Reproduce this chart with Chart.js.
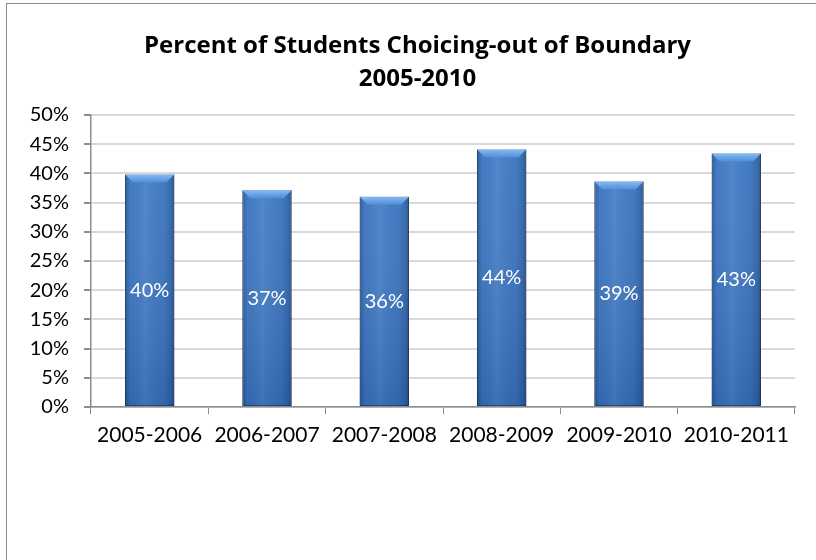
<!DOCTYPE html>
<html>
<head>
<meta charset="utf-8">
<script src="https://cdn.jsdelivr.net/npm/chart.js@4/dist/chart.umd.min.js"></script>
<style>
    html, body { margin: 0; padding: 0; background: #fff; overflow: hidden; }
    #frame { position: absolute; left: 6px; top: 3px; width: 830px; height: 580px; border: 1px solid #8c8c8c; }
    #wrap { position: absolute; left: 0; top: 0; width: 816px; height: 560px; }
</style>
</head>
<body>
<div id="frame"></div>
<div id="wrap"><canvas id="myChart" width="816" height="560"></canvas></div>
<script>
const titleLines = ["Percent of Students Choicing-out of Boundary", "2005-2010"];
const schoolYears = ["2005-2006", "2006-2007", "2007-2008", "2008-2009", "2009-2010", "2010-2011"];
const choiceOutShare = [0.398, 0.371, 0.360, 0.441, 0.386, 0.434];
const yTicks = [0, 0.05, 0.10, 0.15, 0.20, 0.25, 0.30, 0.35, 0.40, 0.45, 0.50];

const FONT = "Lato, 'Noto Sans', sans-serif";
const TITLE_FONT = "'Open Sans', 'Noto Sans', sans-serif";

// the original title is centred on the whole chart frame, which runs past the right edge
const shiftTitle = {
    id: "shiftTitle",
    afterLayout(chart) {
        if (chart.titleBlock) {
            chart.titleBlock.left += 20;
            chart.titleBlock.right += 20;
        }
    }
};

// cylinder-ish shading + bevelled top, like the office chart style
const barShading = {
    id: "barShading",
    afterDatasetsDraw(chart) {
        const ctx = chart.ctx;
        chart.getDatasetMeta(0).data.forEach((bar) => {
            const {x, y, base, width} = bar.getProps(["x", "y", "base", "width"], true);
            const left = x - width / 2, right = x + width / 2;
            ctx.save();
            let g = ctx.createLinearGradient(left, 0, right, 0);
            g.addColorStop(0, "rgba(10,30,70,0.40)");
            g.addColorStop(0.1, "rgba(10,30,70,0.02)");
            g.addColorStop(0.4, "rgba(255,255,255,0.08)");
            g.addColorStop(0.78, "rgba(10,30,70,0.03)");
            g.addColorStop(0.93, "rgba(10,30,70,0.22)");
            g.addColorStop(1, "rgba(10,30,70,0.5)");
            ctx.fillStyle = g;
            ctx.fillRect(left, y, width, base - y);

            // vertical fade, darker at the bottom
            g = ctx.createLinearGradient(0, y, 0, base);
            g.addColorStop(0, "rgba(255,255,255,0.05)");
            g.addColorStop(1, "rgba(10,30,70,0.15)");
            ctx.fillStyle = g;
            ctx.fillRect(left, y, width, base - y);

            // bevel on top
            const b = 8;
            ctx.beginPath();
            ctx.moveTo(left, y);
            ctx.lineTo(right, y);
            ctx.lineTo(right - b, y + b);
            ctx.lineTo(left + b, y + b);
            ctx.closePath();
            g = ctx.createLinearGradient(0, y, 0, y + b);
            g.addColorStop(0, "#86bbf2");
            g.addColorStop(1, "#4f8dd9");
            ctx.fillStyle = g;
            ctx.fill();
            ctx.restore();
        });
    }
};

const valueLabels = {
    id: "valueLabels",
    afterDatasetsDraw(chart) {
        const ctx = chart.ctx;
        const ds = chart.data.datasets[0];
        ctx.save();
        ctx.fillStyle = "#ffffff";
        ctx.font = "20px " + FONT;
        ctx.textAlign = "center";
        ctx.textBaseline = "middle";
        chart.getDatasetMeta(0).data.forEach((bar, i) => {
            const {x, y, base} = bar.getProps(["x", "y", "base"], true);
            ctx.fillText(Math.round(ds.data[i] * 100) + "%", x, (y + base) / 2);
        });
        ctx.restore();
    }
};

const ctx = document.getElementById("myChart").getContext("2d");
new Chart(ctx, {
    type: "bar",
    data: {
        labels: schoolYears,
        datasets: [{
            label: "Choicing-out",
            data: choiceOutShare,
            backgroundColor: "#3a76c2",
            borderColor: "#23497f",
            borderWidth: 1,
            borderSkipped: false,
            barPercentage: 0.42,
            categoryPercentage: 1,
        }]
    },
    options: {
        responsive: false,
        animation: false,
        devicePixelRatio: 1,
        layout: {padding: {left: 0, right: 21, top: 0, bottom: 103}},
        plugins: {
            legend: {display: false},
            tooltip: {enabled: false},
            title: {
                display: true,
                text: titleLines,
                color: "#000",
                font: {family: TITLE_FONT, size: 24, weight: "bold", lineHeight: 1.375},
                padding: {top: 30, bottom: 19},
            },
        },
        scales: {
            x: {
                grid: {drawOnChartArea: false, drawTicks: true, tickLength: 7, offset: true, color: "#8c8c8c", tickColor: "#8c8c8c"},
                border: {color: "#8c8c8c", width: 1.5},
                ticks: {color: "#000", font: {family: FONT, size: 21}, padding: 9, maxRotation: 0},
                afterFit: (scale) => { scale.height = 50; },
            },
            y: {
                min: 0,
                max: 0.5,
                afterBuildTicks: (scale) => { scale.ticks = yTicks.map(v => ({value: v})); },
                grid: {color: "#d9d9d9", lineWidth: 2, tickLength: 7, tickColor: "#8c8c8c"},
                border: {color: "#8c8c8c", width: 1.5},
                ticks: {
                    color: "#000",
                    font: {family: FONT, size: 20},
                    padding: 15,
                    callback: (v) => Math.round(v * 100) + "%",
                },
                afterFit: (scale) => { scale.width = 91; },
            }
        }
    },
    plugins: [shiftTitle, barShading, valueLabels]
});
</script>
</body>
</html>
